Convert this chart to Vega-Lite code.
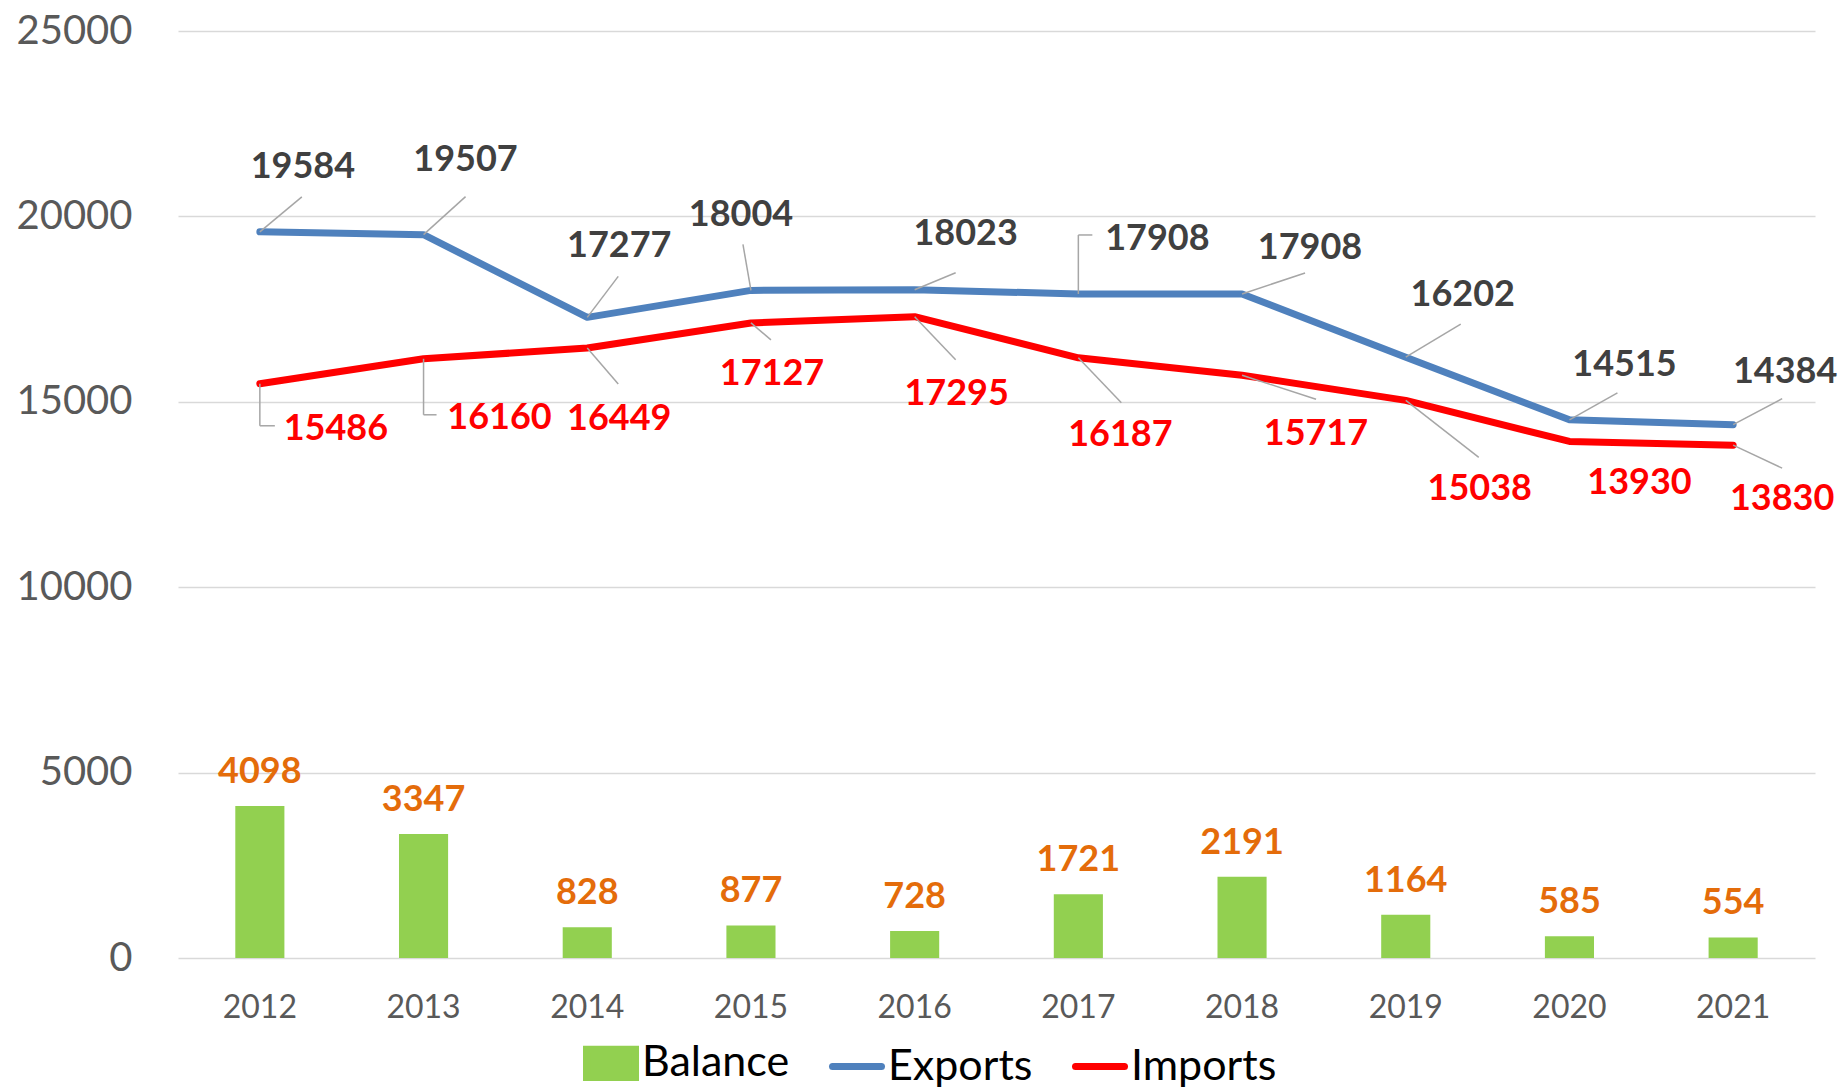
{
  "$schema": "https://vega.github.io/schema/vega-lite/v6.json",
  "width": 1637,
  "height": 927,
  "autosize": {"type": "none"},
  "padding": {"left": 178, "top": 31, "right": 26, "bottom": 133},
  "background": "#ffffff",
  "config": {"view": {"stroke": null}},
  "data": {"values": [
    {"year": "2012", "series": "Exports", "value": 19584},
    {"year": "2013", "series": "Exports", "value": 19507},
    {"year": "2014", "series": "Exports", "value": 17277},
    {"year": "2015", "series": "Exports", "value": 18004},
    {"year": "2016", "series": "Exports", "value": 18023},
    {"year": "2017", "series": "Exports", "value": 17908},
    {"year": "2018", "series": "Exports", "value": 17908},
    {"year": "2019", "series": "Exports", "value": 16202},
    {"year": "2020", "series": "Exports", "value": 14515},
    {"year": "2021", "series": "Exports", "value": 14384},
    {"year": "2012", "series": "Imports", "value": 15486},
    {"year": "2013", "series": "Imports", "value": 16160},
    {"year": "2014", "series": "Imports", "value": 16449},
    {"year": "2015", "series": "Imports", "value": 17127},
    {"year": "2016", "series": "Imports", "value": 17295},
    {"year": "2017", "series": "Imports", "value": 16187},
    {"year": "2018", "series": "Imports", "value": 15717},
    {"year": "2019", "series": "Imports", "value": 15038},
    {"year": "2020", "series": "Imports", "value": 13930},
    {"year": "2021", "series": "Imports", "value": 13830},
    {"year": "2012", "series": "Balance", "value": 4098},
    {"year": "2013", "series": "Balance", "value": 3347},
    {"year": "2014", "series": "Balance", "value": 828},
    {"year": "2015", "series": "Balance", "value": 877},
    {"year": "2016", "series": "Balance", "value": 728},
    {"year": "2017", "series": "Balance", "value": 1721},
    {"year": "2018", "series": "Balance", "value": 2191},
    {"year": "2019", "series": "Balance", "value": 1164},
    {"year": "2020", "series": "Balance", "value": 585},
    {"year": "2021", "series": "Balance", "value": 554}
  ]},
  "encoding": {
    "x": {
      "field": "year", "type": "nominal", "title": null,
      "scale": {"paddingInner": 0, "paddingOuter": 0},
      "axis": {"labelAngle": 0, "domain": false, "ticks": false, "labelFont": "Lato", "labelFontSize": 32, "labelColor": "#595959", "labelPadding": 34, "grid": false}
    },
    "y": {
      "field": "value", "type": "quantitative", "title": null,
      "scale": {"domain": [0, 25000]},
      "axis": {"values": [0, 5000, 10000, 15000, 20000, 25000], "domain": false, "ticks": false, "labelFont": "Lato", "labelFontSize": 40, "labelColor": "#595959", "labelPadding": 46, "gridColor": "#D9D9D9", "gridWidth": 1.5, "format": "d"}
    }
  },
  "layer": [
    {
      "transform": [{"filter": {"field": "series", "equal": "Balance"}}],
      "mark": {"type": "bar", "width": {"band": 0.3}},
      "encoding": {
        "color": {
          "field": "series", "type": "nominal",
          "scale": {"domain": ["Balance", "Exports", "Imports"], "range": ["#92D050", "#4F81BD", "#FF0000"]},
          "legend": {
            "title": null, "orient": "none", "legendX": 405, "legendY": 1004, "direction": "horizontal",
            "padding": 0, "labelFont": "Lato", "labelFontSize": 43, "labelColor": "#000000",
            "symbolSize": 2400, "columnPadding": 28, "labelOffset": 3, "symbolStrokeWidth": 7,
            "encode": {"symbols": {"update": {
              "shape": {"signal": "datum.value === 'Balance' ? 'M-1,-0.58H1V0.58H-1Z' : 'stroke'"},
              "fill": {"signal": "datum.value === 'Balance' ? '#92D050' : 'transparent'"},
              "stroke": {"signal": "datum.value === 'Exports' ? '#4F81BD' : (datum.value === 'Imports' ? '#FF0000' : 'transparent')"},
              "strokeWidth": {"value": 7},
              "strokeCap": {"value": "round"},
              "opacity": {"value": 1}
            }}}
          }
        }
      }
    },
    {
      "transform": [{"filter": {"field": "series", "equal": "Balance"}}],
      "mark": {"type": "text", "dy": -23, "baseline": "alphabetic", "font": "Lato", "fontWeight": "bold", "fontSize": 36, "color": "#E46C0A"},
      "encoding": {"text": {"field": "value", "type": "quantitative", "format": "d"}}
    },
    {
      "transform": [{"filter": {"field": "series", "oneOf": ["Exports", "Imports"]}}],
      "mark": {"type": "line", "strokeWidth": 7, "strokeCap": "round", "strokeJoin": "round"},
      "encoding": {"color": {"field": "series", "type": "nominal"}}
    },
    {
      "transform": [{"filter": {"field": "series", "oneOf": ["Exports", "Imports"]}}],
      "encoding": {"x2": {"field": "year"}, "y2": {"field": "value"}, "text": {"field": "value", "type": "quantitative", "format": "d"}},
      "layer": [
        {"transform": [{"filter": "datum.series === 'Exports' && datum.year === '2012'"}], "layer": [
          {"mark": {"type": "rule", "x2Offset": 42, "y2Offset": -35, "color": "#A6A6A6", "strokeWidth": 1.5}},
          {"mark": {"type": "text", "dx": 43, "dy": -65, "baseline": "middle", "font": "Lato", "fontWeight": "bold", "fontSize": 36, "color": "#404040"}}
        ]},
        {"transform": [{"filter": "datum.series === 'Exports' && datum.year === '2013'"}], "layer": [
          {"mark": {"type": "rule", "x2Offset": 42, "y2Offset": -38, "color": "#A6A6A6", "strokeWidth": 1.5}},
          {"mark": {"type": "text", "dx": 42, "dy": -75, "baseline": "middle", "font": "Lato", "fontWeight": "bold", "fontSize": 36, "color": "#404040"}}
        ]},
        {"transform": [{"filter": "datum.series === 'Exports' && datum.year === '2014'"}], "layer": [
          {"mark": {"type": "rule", "x2Offset": 31, "y2Offset": -41, "color": "#A6A6A6", "strokeWidth": 1.5}},
          {"mark": {"type": "text", "dx": 32, "dy": -71, "baseline": "middle", "font": "Lato", "fontWeight": "bold", "fontSize": 36, "color": "#404040"}}
        ]},
        {"transform": [{"filter": "datum.series === 'Exports' && datum.year === '2015'"}], "layer": [
          {"mark": {"type": "rule", "x2Offset": -8, "y2Offset": -46, "color": "#A6A6A6", "strokeWidth": 1.5}},
          {"mark": {"type": "text", "dx": -10, "dy": -75, "baseline": "middle", "font": "Lato", "fontWeight": "bold", "fontSize": 36, "color": "#404040"}}
        ]},
        {"transform": [{"filter": "datum.series === 'Exports' && datum.year === '2016'"}], "layer": [
          {"mark": {"type": "rule", "x2Offset": 41, "y2Offset": -17, "color": "#A6A6A6", "strokeWidth": 1.5}},
          {"mark": {"type": "text", "dx": 51, "dy": -56, "baseline": "middle", "font": "Lato", "fontWeight": "bold", "fontSize": 36, "color": "#404040"}}
        ]},
        {"transform": [{"filter": "datum.series === 'Exports' && datum.year === '2017'"}], "layer": [
          {"mark": {"type": "rule", "x2Offset": 0, "y2Offset": -59, "color": "#A6A6A6", "strokeWidth": 1.5}},
          {"mark": {"type": "rule", "yOffset": -59, "x2Offset": 14, "y2Offset": -59, "color": "#A6A6A6", "strokeWidth": 1.5}},
          {"mark": {"type": "text", "dx": 79, "dy": -55, "baseline": "middle", "font": "Lato", "fontWeight": "bold", "fontSize": 36, "color": "#404040"}}
        ]},
        {"transform": [{"filter": "datum.series === 'Exports' && datum.year === '2018'"}], "layer": [
          {"mark": {"type": "rule", "x2Offset": 63, "y2Offset": -21, "color": "#A6A6A6", "strokeWidth": 1.5}},
          {"mark": {"type": "text", "dx": 68, "dy": -46, "baseline": "middle", "font": "Lato", "fontWeight": "bold", "fontSize": 36, "color": "#404040"}}
        ]},
        {"transform": [{"filter": "datum.series === 'Exports' && datum.year === '2019'"}], "layer": [
          {"mark": {"type": "rule", "x2Offset": 55, "y2Offset": -33, "color": "#A6A6A6", "strokeWidth": 1.5}},
          {"mark": {"type": "text", "dx": 57, "dy": -62, "baseline": "middle", "font": "Lato", "fontWeight": "bold", "fontSize": 36, "color": "#404040"}}
        ]},
        {"transform": [{"filter": "datum.series === 'Exports' && datum.year === '2020'"}], "layer": [
          {"mark": {"type": "rule", "x2Offset": 48, "y2Offset": -27, "color": "#A6A6A6", "strokeWidth": 1.5}},
          {"mark": {"type": "text", "dx": 55, "dy": -55, "baseline": "middle", "font": "Lato", "fontWeight": "bold", "fontSize": 36, "color": "#404040"}}
        ]},
        {"transform": [{"filter": "datum.series === 'Exports' && datum.year === '2021'"}], "layer": [
          {"mark": {"type": "rule", "x2Offset": 49, "y2Offset": -26, "color": "#A6A6A6", "strokeWidth": 1.5}},
          {"mark": {"type": "text", "dx": 52, "dy": -53, "baseline": "middle", "font": "Lato", "fontWeight": "bold", "fontSize": 36, "color": "#404040"}}
        ]},
        {"transform": [{"filter": "datum.series === 'Imports' && datum.year === '2012'"}], "layer": [
          {"mark": {"type": "rule", "x2Offset": 0, "y2Offset": 42, "color": "#A6A6A6", "strokeWidth": 1.5}},
          {"mark": {"type": "rule", "yOffset": 42, "x2Offset": 15, "y2Offset": 42, "color": "#A6A6A6", "strokeWidth": 1.5}},
          {"mark": {"type": "text", "dx": 76, "dy": 45, "baseline": "middle", "font": "Lato", "fontWeight": "bold", "fontSize": 36, "color": "#FF0000"}}
        ]},
        {"transform": [{"filter": "datum.series === 'Imports' && datum.year === '2013'"}], "layer": [
          {"mark": {"type": "rule", "x2Offset": 0, "y2Offset": 56, "color": "#A6A6A6", "strokeWidth": 1.5}},
          {"mark": {"type": "rule", "yOffset": 56, "x2Offset": 13, "y2Offset": 56, "color": "#A6A6A6", "strokeWidth": 1.5}},
          {"mark": {"type": "text", "dx": 76, "dy": 59, "baseline": "middle", "font": "Lato", "fontWeight": "bold", "fontSize": 36, "color": "#FF0000"}}
        ]},
        {"transform": [{"filter": "datum.series === 'Imports' && datum.year === '2014'"}], "layer": [
          {"mark": {"type": "rule", "x2Offset": 31, "y2Offset": 36, "color": "#A6A6A6", "strokeWidth": 1.5}},
          {"mark": {"type": "text", "dx": 32, "dy": 71, "baseline": "middle", "font": "Lato", "fontWeight": "bold", "fontSize": 36, "color": "#FF0000"}}
        ]},
        {"transform": [{"filter": "datum.series === 'Imports' && datum.year === '2015'"}], "layer": [
          {"mark": {"type": "rule", "x2Offset": 20, "y2Offset": 17, "color": "#A6A6A6", "strokeWidth": 1.5}},
          {"mark": {"type": "text", "dx": 21, "dy": 51, "baseline": "middle", "font": "Lato", "fontWeight": "bold", "fontSize": 36, "color": "#FF0000"}}
        ]},
        {"transform": [{"filter": "datum.series === 'Imports' && datum.year === '2016'"}], "layer": [
          {"mark": {"type": "rule", "x2Offset": 41, "y2Offset": 43, "color": "#A6A6A6", "strokeWidth": 1.5}},
          {"mark": {"type": "text", "dx": 42, "dy": 77, "baseline": "middle", "font": "Lato", "fontWeight": "bold", "fontSize": 36, "color": "#FF0000"}}
        ]},
        {"transform": [{"filter": "datum.series === 'Imports' && datum.year === '2017'"}], "layer": [
          {"mark": {"type": "rule", "x2Offset": 43, "y2Offset": 45, "color": "#A6A6A6", "strokeWidth": 1.5}},
          {"mark": {"type": "text", "dx": 42, "dy": 77, "baseline": "middle", "font": "Lato", "fontWeight": "bold", "fontSize": 36, "color": "#FF0000"}}
        ]},
        {"transform": [{"filter": "datum.series === 'Imports' && datum.year === '2018'"}], "layer": [
          {"mark": {"type": "rule", "x2Offset": 74, "y2Offset": 24, "color": "#A6A6A6", "strokeWidth": 1.5}},
          {"mark": {"type": "text", "dx": 74, "dy": 59, "baseline": "middle", "font": "Lato", "fontWeight": "bold", "fontSize": 36, "color": "#FF0000"}}
        ]},
        {"transform": [{"filter": "datum.series === 'Imports' && datum.year === '2019'"}], "layer": [
          {"mark": {"type": "rule", "x2Offset": 73, "y2Offset": 57, "color": "#A6A6A6", "strokeWidth": 1.5}},
          {"mark": {"type": "text", "dx": 74, "dy": 89, "baseline": "middle", "font": "Lato", "fontWeight": "bold", "fontSize": 36, "color": "#FF0000"}}
        ]},
        {"transform": [{"filter": "datum.series === 'Imports' && datum.year === '2020'"}], "layer": [
          {"mark": {"type": "text", "dx": 70, "dy": 42, "baseline": "middle", "font": "Lato", "fontWeight": "bold", "fontSize": 36, "color": "#FF0000"}}
        ]},
        {"transform": [{"filter": "datum.series === 'Imports' && datum.year === '2021'"}], "layer": [
          {"mark": {"type": "rule", "x2Offset": 49, "y2Offset": 23, "color": "#A6A6A6", "strokeWidth": 1.5}},
          {"mark": {"type": "text", "dx": 49, "dy": 54, "baseline": "middle", "font": "Lato", "fontWeight": "bold", "fontSize": 36, "color": "#FF0000"}}
        ]}
      ]
    }
  ]
}
